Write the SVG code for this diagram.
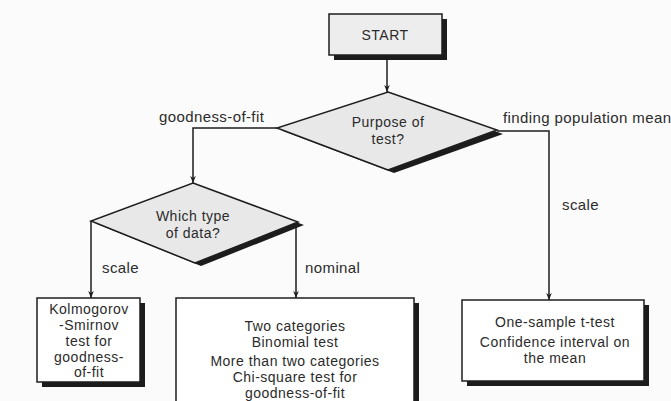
<svg xmlns="http://www.w3.org/2000/svg" width="671" height="401" viewBox="0 0 671 401">
  <defs>
    <marker id="arrow" viewBox="0 0 10 10" refX="10" refY="5" markerWidth="7" markerHeight="9" markerUnits="userSpaceOnUse" orient="auto">
      <path d="M0,1 L10,5 L0,9 L3,5 Z" fill="#1e1e1e"/>
    </marker>
    <style>
      text { font-family: "Liberation Sans", Arial, sans-serif; font-size: 15px; fill: #2b2b2b; letter-spacing: 0.4px; }
      .c { text-anchor: middle; font-size: 14px; letter-spacing: 0.5px; }
      .shadow { fill: #1c1c1c; }
      .start { fill: #ededed; stroke: #1e1e1e; stroke-width: 1.5; }
      .decision { fill: #e8e8e8; stroke: #1e1e1e; stroke-width: 1.5; }
      .result { fill: #ffffff; stroke: #1e1e1e; stroke-width: 1.5; }
      .link { fill: none; stroke: #1e1e1e; stroke-width: 1.5; }
    </style>
  </defs>

  <rect width="671" height="401" fill="#fbfbfb"/>

  <!-- connectors and their branch labels -->
  <g id="connectors">
    <path class="link" d="M387,59 L387,92" marker-end="url(#arrow)"/>
    <path class="link" d="M277,128 L193,128 L193,183" marker-end="url(#arrow)"/>
    <path class="link" d="M497,131 L549,131 L549,300" marker-end="url(#arrow)"/>
    <path class="link" d="M91,221 L91,298" marker-end="url(#arrow)"/>
    <path class="link" d="M296,222 L296,298" marker-end="url(#arrow)"/>
    <text x="159" y="122">goodness-of-fit</text>
    <text x="503" y="123">finding population mean</text>
    <text x="562" y="210">scale</text>
    <text x="102" y="273">scale</text>
    <text x="305" y="273">nominal</text>
  </g>

  <g id="start">
    <rect class="shadow" x="334" y="19" width="113" height="41"/>
    <rect class="start" x="329" y="14" width="113" height="41"/>
    <text class="c" x="385" y="40">START</text>
  </g>

  <g id="purpose">
    <polygon class="shadow" points="394,95 503,134 394,173 283,131"/>
    <polygon class="decision" points="388,92 497,130 388,170 277,128"/>
    <text class="c" x="388" y="127">Purpose of</text>
    <text class="c" x="388" y="144">test?</text>
  </g>

  <g id="data-type">
    <polygon class="shadow" points="199,186 304,225 201,266 97,224"/>
    <polygon class="decision" points="193,183 298,222 195,263 91,221"/>
    <text class="c" x="193" y="221">Which type</text>
    <text class="c" x="193" y="238">of data?</text>
  </g>

  <g id="kolmogorov">
    <rect class="shadow" x="42" y="303" width="103" height="84"/>
    <rect class="result" x="37" y="298" width="103" height="84"/>
    <text class="c" x="89" y="314">Kolmogorov</text>
    <text class="c" x="89" y="330">-Smirnov</text>
    <text class="c" x="89" y="346">test for</text>
    <text class="c" x="89" y="362">goodness-</text>
    <text class="c" x="89" y="377">of-fit</text>
  </g>

  <g id="nominal-tests">
    <rect class="shadow" x="181" y="303" width="238" height="110"/>
    <rect class="result" x="176" y="298" width="238" height="110"/>
    <text class="c" x="295" y="331">Two categories</text>
    <text class="c" x="295" y="347">Binomial test</text>
    <text class="c" x="295" y="366">More than two categories</text>
    <text class="c" x="295" y="382">Chi-square test for</text>
    <text class="c" x="295" y="398">goodness-of-fit</text>
  </g>

  <g id="one-sample">
    <rect class="shadow" x="467" y="305" width="182" height="81"/>
    <rect class="result" x="462" y="300" width="182" height="81"/>
    <text class="c" x="555" y="327">One-sample t-test</text>
    <text class="c" x="555" y="347">Confidence interval on</text>
    <text class="c" x="555" y="363">the mean</text>
  </g>
</svg>
